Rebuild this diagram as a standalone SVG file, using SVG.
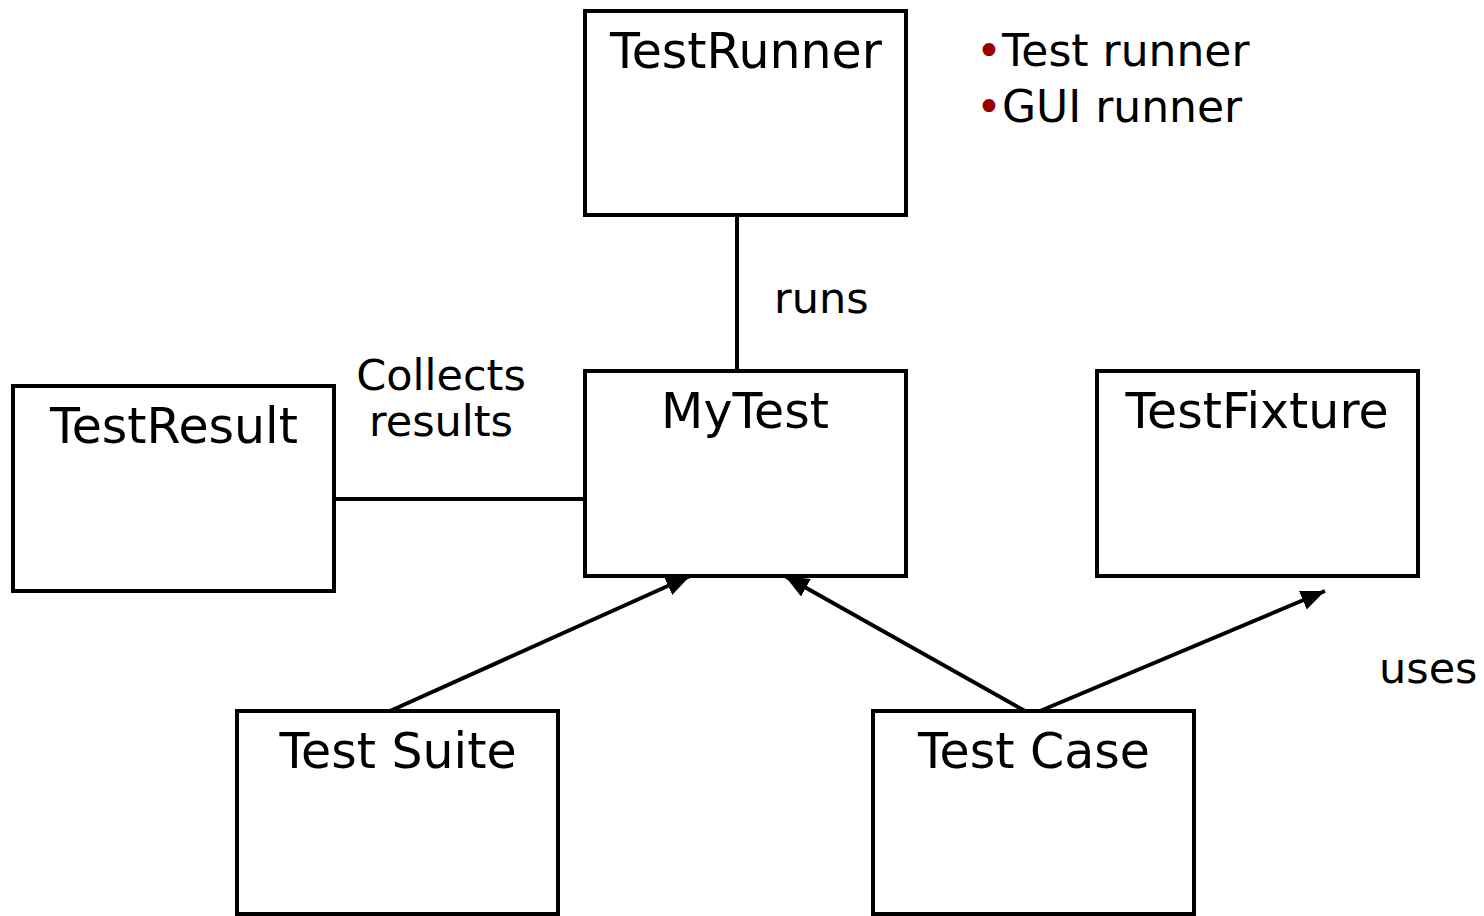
<svg xmlns="http://www.w3.org/2000/svg" width="1484" height="916" viewBox="0 0 1484 916">
  <style>
    .box { fill: #ffffff; stroke: #000000; stroke-width: 4; }
    .title { font-family: "DejaVu Sans", Verdana, sans-serif; font-size: 49px; fill: #000000; text-anchor: middle; }
    .label { font-family: "DejaVu Sans", Verdana, sans-serif; font-size: 43px; fill: #000000; }
    .note { font-family: "DejaVu Sans", Verdana, sans-serif; font-size: 44px; fill: #000000; }
    .edge { fill: none; stroke: #000000; stroke-width: 4; }
    .bullet { fill: #990000; }
  </style>
  <defs>
    <marker id="arrow" markerUnits="userSpaceOnUse" markerWidth="26" markerHeight="22" refX="24" refY="10" orient="auto">
      <path d="M0,0 L24,10 L0,20 Z" fill="#000000"/>
    </marker>
  </defs>
  <rect width="1484" height="916" fill="#ffffff"/>

  <g id="connectors">
    <line class="edge" x1="737" y1="215" x2="737" y2="378"/>
    <line class="edge" x1="334" y1="499" x2="585" y2="499"/>
    <line class="edge" x1="390" y1="711" x2="690" y2="576" marker-end="url(#arrow)"/>
    <line class="edge" x1="1025" y1="711" x2="785" y2="576" marker-end="url(#arrow)"/>
    <line class="edge" x1="1040" y1="711" x2="1325" y2="591" marker-end="url(#arrow)"/>
    <text class="label" x="774" y="313">runs</text>
    <text class="label" x="441" y="390" text-anchor="middle">Collects</text>
    <text class="label" x="441" y="436" text-anchor="middle">results</text>
    <text class="label" x="1379" y="683">uses</text>
  </g>

  <g id="TestRunner">
    <rect class="box" x="585" y="11" width="321" height="204"/>
    <text class="title" x="746" y="68">TestRunner</text>
  </g>

  <g id="runner-notes">
    <text class="note" x="976" y="66"><tspan class="bullet">•</tspan>Test runner</text>
    <text class="note" x="976" y="122"><tspan class="bullet">•</tspan>GUI runner</text>
  </g>

  <g id="MyTest">
    <rect class="box" x="585" y="371" width="321" height="205"/>
    <text class="title" x="745" y="428">MyTest</text>
  </g>

  <g id="TestResult">
    <rect class="box" x="13" y="386" width="321" height="205"/>
    <text class="title" x="174" y="443">TestResult</text>
  </g>

  <g id="TestFixture">
    <rect class="box" x="1097" y="371" width="321" height="205"/>
    <text class="title" x="1257" y="428">TestFixture</text>
  </g>

  <g id="TestSuite">
    <rect class="box" x="237" y="711" width="321" height="203"/>
    <text class="title" x="398" y="768">Test Suite</text>
  </g>

  <g id="TestCase">
    <rect class="box" x="873" y="711" width="321" height="203"/>
    <text class="title" x="1034" y="768">Test Case</text>
  </g>
</svg>
